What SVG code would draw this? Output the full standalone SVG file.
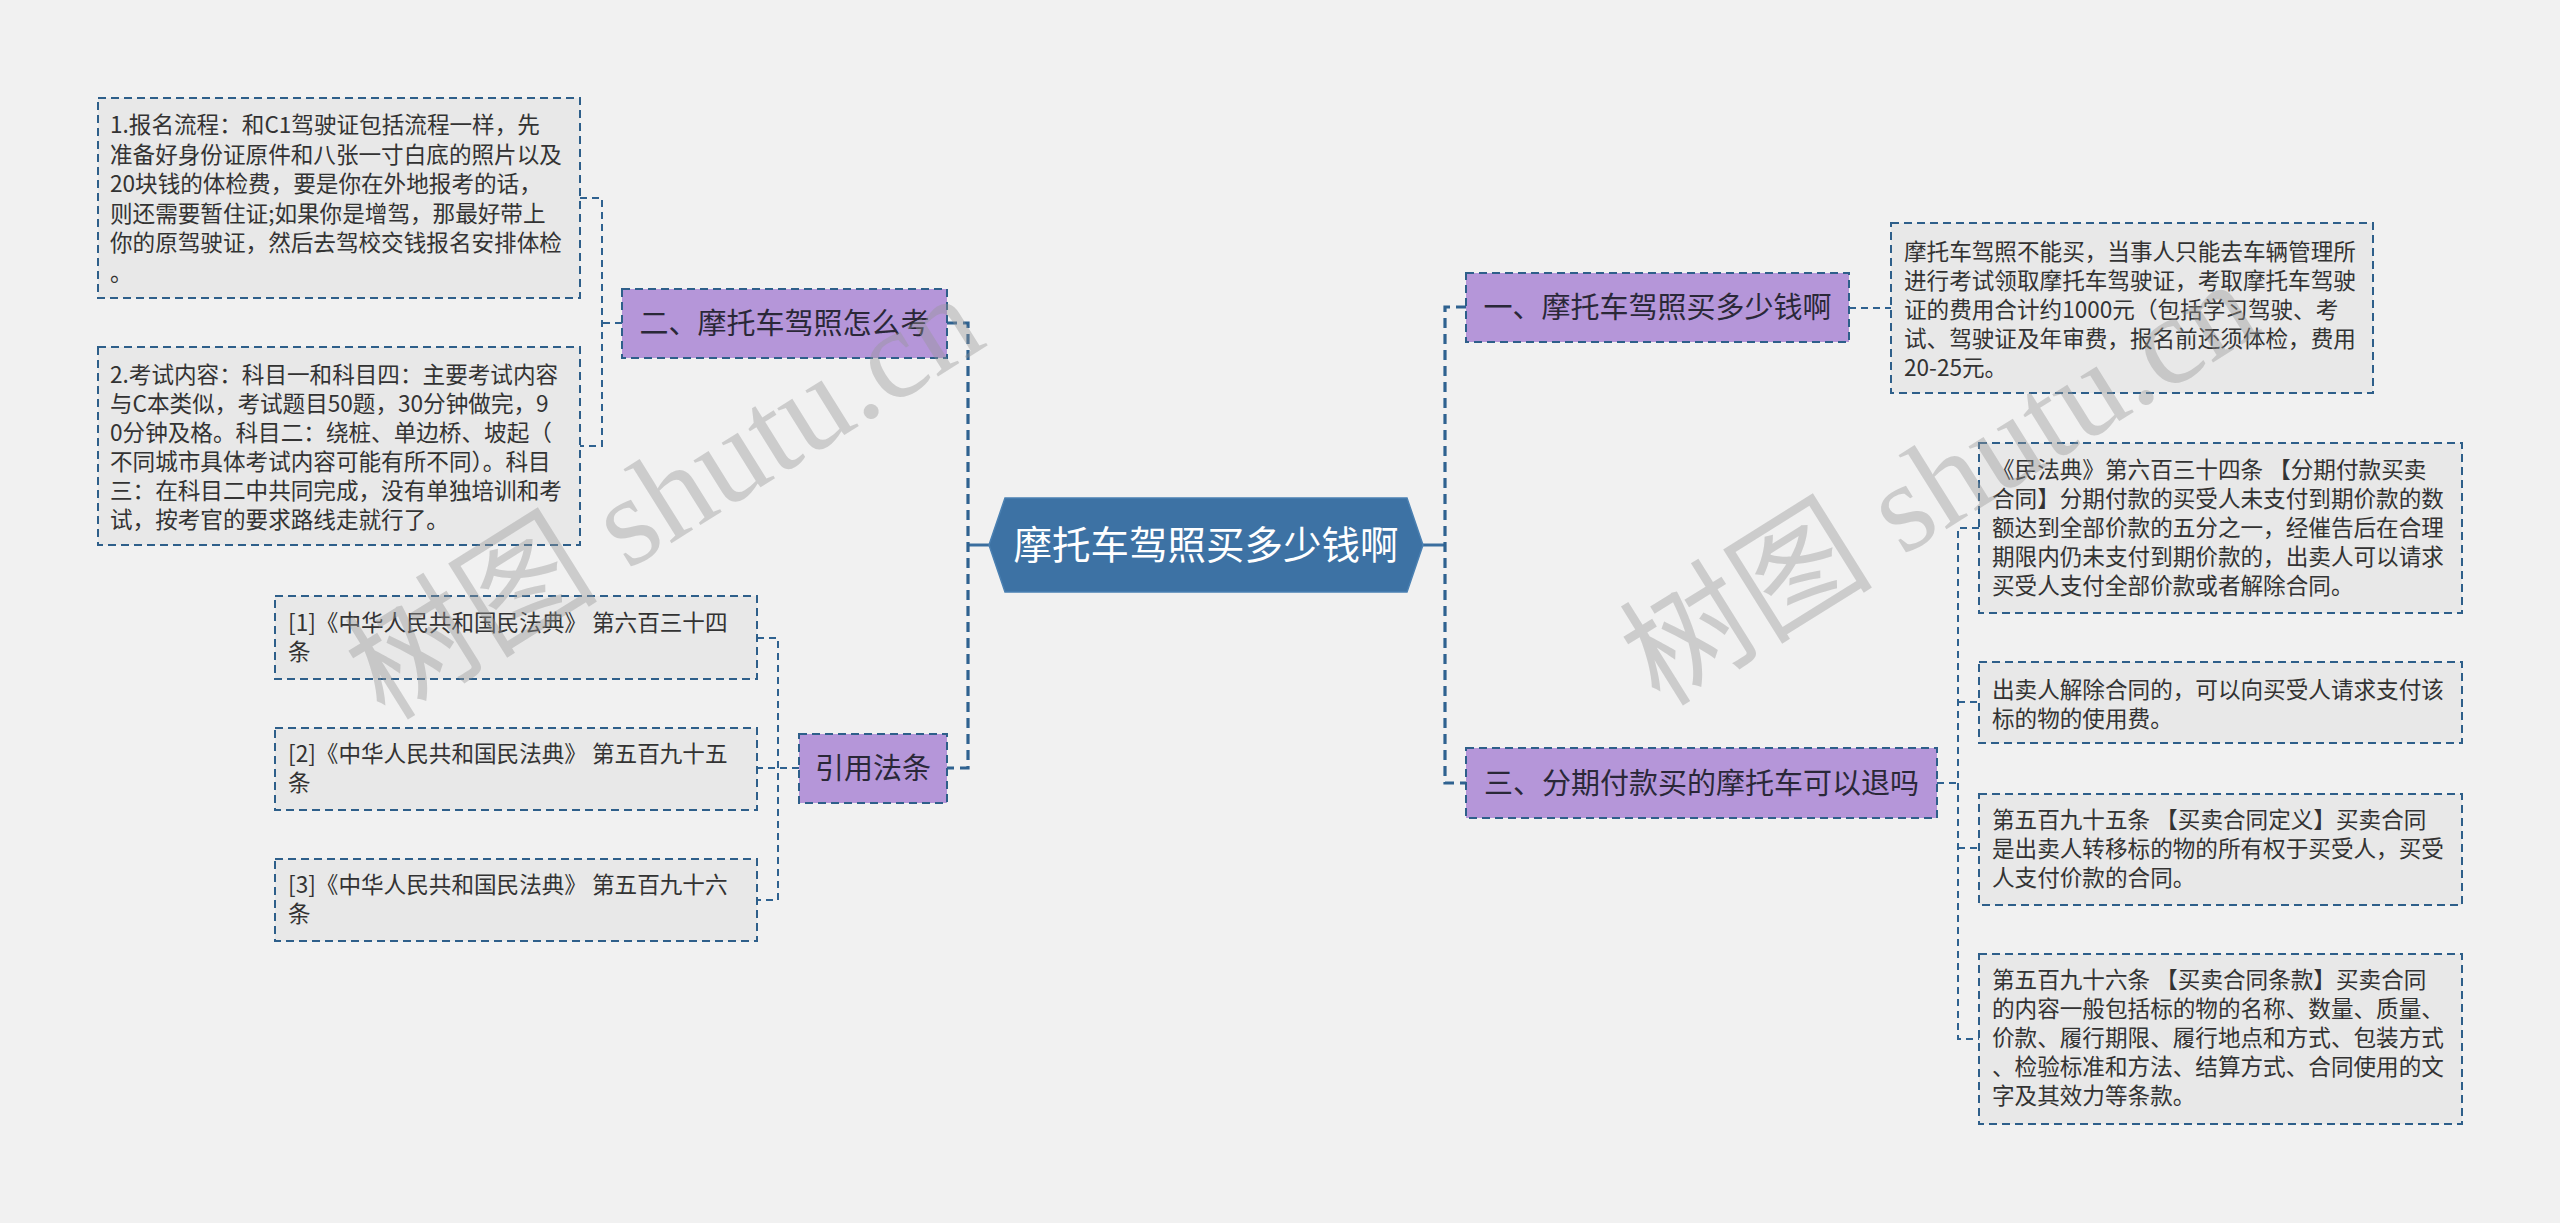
<svg xmlns="http://www.w3.org/2000/svg" width="2560" height="1223" viewBox="0 0 2560 1223">
<style>
.t{font-family:"Noto Sans CJK SC","Noto Sans",sans-serif;font-size:22.6px;fill:#333333}
.leaf{fill:#e8e8e8;stroke:#2e5f8a;stroke-width:2;stroke-dasharray:8 5}
.mid{fill:#b596d9;stroke:#2e5f8a;stroke-width:2;stroke-dasharray:8 5}
.mt{font-family:"Noto Sans CJK SC","Noto Sans",sans-serif;font-size:29px;fill:#2a2838;text-anchor:middle}
.c1{fill:none;stroke:#2f6290;stroke-width:3.2;stroke-dasharray:10 6}
.c2{fill:none;stroke:#2f6290;stroke-width:2;stroke-dasharray:7 5}
.cs{fill:none;stroke:#3a6e9e;stroke-width:3}
.wm{font-family:"Liberation Serif","Noto Sans CJK SC",serif;font-size:127px;fill:#969696;fill-opacity:0.4}
</style>
<rect x="0" y="0" width="2560" height="1223" fill="#f1f1f1"/>

<g id="connectors">
  <path class="cs" d="M989,545 H968"/>
  <path class="c1" d="M947,323 H968 V768 H947"/>
  <path class="cs" d="M1423,545 H1445"/>
  <path class="c1" d="M1466,307 H1445 V783 H1466"/>
  <path class="c2" d="M622,323 H602 M580,198 H602 V446 H580"/>
  <path class="c2" d="M799,768 H757 M757,638 H778 V900 H757"/>
  <path class="c2" d="M1849,308 H1891"/>
  <path class="c2" d="M1937,783 H1958 M1979,528 H1958 V1039 H1979 M1958,702 H1979 M1958,848 H1979"/>
</g>

<g id="root">
  <polygon points="989,545 1005,498 1407,498 1423,545 1407,592 1005,592" fill="#3d72a4" stroke="#4a80b2" stroke-width="1.5"/>
  <text x="1206" y="559" text-anchor="middle" font-family="'Noto Sans CJK SC','Noto Sans',sans-serif" font-size="38.5" fill="#ffffff">摩托车驾照买多少钱啊</text>
</g>

<g id="n2">
  <rect class="mid" x="622" y="289" width="325" height="69"/>
  <text class="mt" x="784.5" y="334">二、摩托车驾照怎么考</text>
</g>
<g id="n2a">
  <rect class="leaf" x="98" y="98" width="482" height="200"/>
  <text class="t"><tspan x="110" y="133">1.报名流程：和C1驾驶证包括流程一样，先</tspan><tspan x="110" y="162.5">准备好身份证原件和八张一寸白底的照片以及</tspan><tspan x="110" y="192">20块钱的体检费，要是你在外地报考的话，</tspan><tspan x="110" y="221.5">则还需要暂住证;如果你是增驾，那最好带上</tspan><tspan x="110" y="251">你的原驾驶证，然后去驾校交钱报名安排体检</tspan><tspan x="110" y="280.5">。</tspan></text>
</g>
<g id="n2b">
  <rect class="leaf" x="98" y="347" width="482" height="198"/>
  <text class="t"><tspan x="110" y="383">2.考试内容：科目一和科目四：主要考试内容</tspan><tspan x="110" y="412">与C本类似，考试题目50题，30分钟做完，9</tspan><tspan x="110" y="441">0分钟及格。科目二：绕桩、单边桥、坡起（</tspan><tspan x="110" y="470">不同城市具体考试内容可能有所不同）。科目</tspan><tspan x="110" y="499">三：在科目二中共同完成，没有单独培训和考</tspan><tspan x="110" y="528">试，按考官的要求路线走就行了。</tspan></text>
</g>

<g id="n4">
  <rect class="mid" x="799" y="734" width="148" height="69"/>
  <text class="mt" x="873" y="779">引用法条</text>
</g>
<g id="n4a">
  <rect class="leaf" x="275" y="596" width="482" height="83"/>
  <text class="t"><tspan x="288" y="631">[1]《中华人民共和国民法典》 第六百三十四</tspan><tspan x="288" y="660">条</tspan></text>
</g>
<g id="n4b">
  <rect class="leaf" x="275" y="728" width="482" height="82"/>
  <text class="t"><tspan x="288" y="762">[2]《中华人民共和国民法典》 第五百九十五</tspan><tspan x="288" y="791">条</tspan></text>
</g>
<g id="n4c">
  <rect class="leaf" x="275" y="859" width="482" height="82"/>
  <text class="t"><tspan x="288" y="893">[3]《中华人民共和国民法典》 第五百九十六</tspan><tspan x="288" y="922">条</tspan></text>
</g>

<g id="n1">
  <rect class="mid" x="1466" y="273" width="383" height="69"/>
  <text class="mt" x="1657.5" y="318">一、摩托车驾照买多少钱啊</text>
</g>
<g id="n1a">
  <rect class="leaf" x="1891" y="223" width="482" height="170"/>
  <text class="t"><tspan x="1904" y="260">摩托车驾照不能买，当事人只能去车辆管理所</tspan><tspan x="1904" y="289">进行考试领取摩托车驾驶证，考取摩托车驾驶</tspan><tspan x="1904" y="318">证的费用合计约1000元（包括学习驾驶、考</tspan><tspan x="1904" y="347">试、驾驶证及年审费，报名前还须体检，费用</tspan><tspan x="1904" y="376">20-25元。</tspan></text>
</g>

<g id="n3">
  <rect class="mid" x="1466" y="748" width="471" height="70"/>
  <text class="mt" x="1701.5" y="794">三、分期付款买的摩托车可以退吗</text>
</g>
<g id="n3a">
  <rect class="leaf" x="1979" y="443" width="483" height="170"/>
  <text class="t"><tspan x="1992" y="478">《民法典》第六百三十四条 【分期付款买卖</tspan><tspan x="1992" y="507">合同】分期付款的买受人未支付到期价款的数</tspan><tspan x="1992" y="536">额达到全部价款的五分之一，经催告后在合理</tspan><tspan x="1992" y="565">期限内仍未支付到期价款的，出卖人可以请求</tspan><tspan x="1992" y="594">买受人支付全部价款或者解除合同。</tspan></text>
</g>
<g id="n3b">
  <rect class="leaf" x="1979" y="662" width="483" height="81"/>
  <text class="t"><tspan x="1992" y="698">出卖人解除合同的，可以向买受人请求支付该</tspan><tspan x="1992" y="727">标的物的使用费。</tspan></text>
</g>
<g id="n3c">
  <rect class="leaf" x="1979" y="794" width="483" height="111"/>
  <text class="t"><tspan x="1992" y="828">第五百九十五条 【买卖合同定义】买卖合同</tspan><tspan x="1992" y="857">是出卖人转移标的物的所有权于买受人，买受</tspan><tspan x="1992" y="886">人支付价款的合同。</tspan></text>
</g>
<g id="n3d">
  <rect class="leaf" x="1979" y="954" width="483" height="170"/>
  <text class="t"><tspan x="1992" y="988">第五百九十六条 【买卖合同条款】买卖合同</tspan><tspan x="1992" y="1017">的内容一般包括标的物的名称、数量、质量、</tspan><tspan x="1992" y="1046">价款、履行期限、履行地点和方式、包装方式</tspan><tspan x="1992" y="1075">、检验标准和方法、结算方式、合同使用的文</tspan><tspan x="1992" y="1104">字及其效力等条款。</tspan></text>
</g>

<g id="watermarks">
  <text class="wm" transform="translate(385,722) rotate(-32)">树图 shutu.cn</text>
  <text class="wm" transform="translate(1660,708) rotate(-32)">树图 shutu.cn</text>
</g>
</svg>
